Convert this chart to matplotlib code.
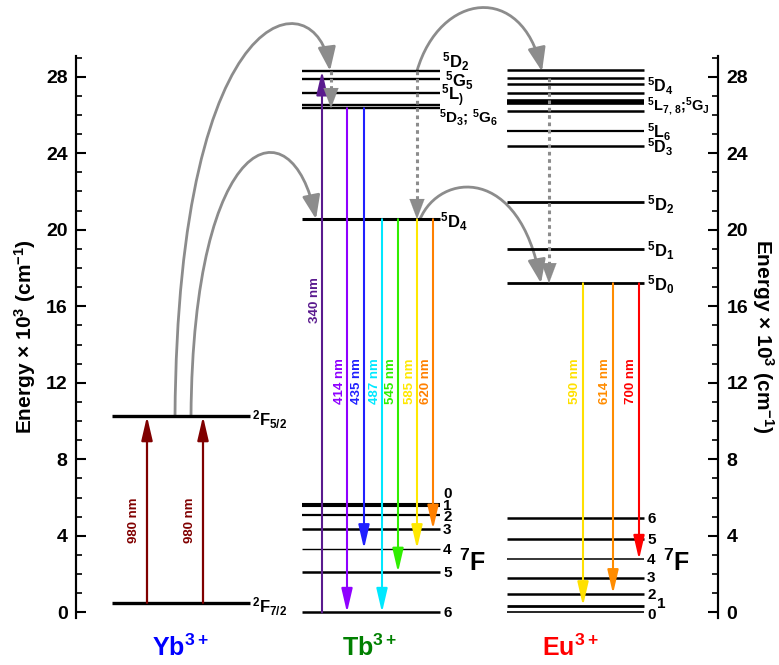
import matplotlib
matplotlib.use('Agg')
import matplotlib.pyplot as plt
from matplotlib.patches import FancyArrowPatch
from matplotlib.path import Path
from matplotlib.ticker import MultipleLocator

plt.rcParams['font.family'] = ['Liberation Sans', 'DejaVu Sans']
plt.rcParams['font.weight'] = 'bold'
plt.rcParams['axes.labelweight'] = 'bold'
plt.rcParams['mathtext.fontset'] = 'custom'
plt.rcParams['mathtext.rm'] = 'Liberation Sans:bold'
plt.rcParams['mathtext.it'] = 'Liberation Sans:bold'
plt.rcParams['mathtext.bf'] = 'Liberation Sans:bold'
plt.rcParams['mathtext.default'] = 'rm'

# energy levels (x 10^3 cm-1)
yb_levels = [0.5, 10.25]
yb_names = ['$^2$F$_{7/2}$', '$^2$F$_{5/2}$']

tb_upper = [28.3, 27.9, 27.15, 26.5, 26.35]
tb_5d4 = 20.55
tb_7f = [5.68, 5.54, 5.07, 4.35, 3.33, 2.1, 0.0]     # 7F0 .. 7F6

eu_upper = [28.37, 27.92, 27.64, 27.15, 26.72, 26.6, 26.23, 25.15, 24.35]
eu_5d = [21.47, 18.98, 17.2]                          # 5D2, 5D1, 5D0
eu_7f = [0.0, 0.35, 0.98, 1.81, 2.77, 3.85, 4.93]     # 7F0 .. 7F6

# transitions
yb_wl = ['980 nm', '980 nm']
tb_wl = ['340 nm', '414 nm', '435 nm', '487 nm', '545 nm', '585 nm', '620 nm']
tb_start = [0.0, 26.35, 26.35, 20.55, 20.55, 20.55, 20.55]
tb_end = [28.3, 0.0, 3.33, 0.0, 2.1, 3.33, 4.35]
eu_wl = ['590 nm', '614 nm', '700 nm']
eu_start = [17.2, 17.2, 17.2]
eu_end = [0.35, 0.98, 2.77]

# layout helpers (x in picture pixels, y in energy)
PX, Y0 = 19.14, 612.5
def e(ypx):
    return (Y0 - ypx) / PX

fig = plt.figure(figsize=(7.79, 6.65), dpi=100)
ax = fig.add_axes([76 / 779, 0.0704, 642 / 779, 0.846])
ax.set_xlim(76, 718)
ax.set_ylim(-0.3, 29.1)

# ---- levels
ax.hlines(yb_levels, 112, 250, color='black', lw=2.4)
ax.hlines(tb_upper, 302, 440, color='black', lw=1.7)
ax.hlines([tb_5d4], 302, 440, color='black', lw=2.2)
tb_lw = [1.5, 1.5, 1.6, 1.8, 1.0, 1.8, 1.8]
for lvl, w in zip(tb_7f, tb_lw):
    ax.hlines(lvl, 302, 440, color='black', lw=w)
eu_lw = [1.8, 1.8, 1.8, 1.8, 2.6, 2.6, 1.8, 1.6, 1.8]
for lvl, w in zip(eu_upper, eu_lw):
    ax.hlines(lvl, 507, 644, color='black', lw=w)
ax.hlines(eu_5d, 507, 644, color='black', lw=2.0)
eu7_lw = [1.2, 2.0, 1.8, 1.8, 1.1, 1.8, 1.8]
for lvl, w in zip(eu_7f, eu7_lw):
    ax.hlines(lvl, 507, 644, color='black', lw=w)


def arrow(x, y0, y1, color, lw=1.5):
    ax.annotate('', xy=(x, y1), xytext=(x, y0),
                arrowprops=dict(arrowstyle='-|>,head_length=1.2,head_width=0.28',
                                color=color, lw=lw, shrinkA=0, shrinkB=0,
                                mutation_scale=12))

# ---- Yb excitation
for x, lx, wl in zip([147, 203], [134, 190], yb_wl):
    arrow(x, yb_levels[0], yb_levels[1], '#800000', lw=1.6)
    ax.text(lx, 4.8, wl, rotation=90, color='#800000', fontsize=9.5,
            ha='center', va='center')

# ---- Tb transitions
tb_x = [322, 347, 364, 382, 398, 417, 433]
tb_col = ['#5a1a8e', '#8f00ff', '#2020ff', '#00e8ff', '#30ee00', '#ffe800', '#ff8000']
tb_lab_y = [16.3, 12.1, 12.1, 12.1, 12.1, 12.1, 12.1]
for x, s, t, c, wl, ly in zip(tb_x, tb_start, tb_end, tb_col, tb_wl, tb_lab_y):
    arrow(x, s, t, c)
    ax.text(x - 7, ly, wl, rotation=90, color=c, fontsize=9.5,
            ha='center', va='center')

# ---- Eu transitions
eu_x = [583, 613, 639]
eu_col = ['#ffe000', '#ff8c00', '#ff0000']
for x, s, t, c, wl in zip(eu_x, eu_start, eu_end, eu_col, eu_wl):
    arrow(x, s, t, c)
    ax.text(x - 8, 12.1, wl, rotation=90, color=c, fontsize=9.5,
            ha='center', va='center')

# ---- energy transfer (gray)
gray = '#8c8c8c'
curves = [
    [(175, yb_levels[1]), (178, e(-10)), (318, e(-20)), (330, tb_upper[0])],
    [(191, yb_levels[1]), (193, e(130)), (292, e(100)), (316, tb_5d4)],
    [(417, tb_upper[0]), (440, e(-8)), (522, e(-18)), (542, eu_upper[0] - 0.1)],
    [(420, tb_5d4), (440, e(172)), (520, e(165)), (541, eu_5d[2])],
]
for verts in curves:
    p = Path(verts, [Path.MOVETO, Path.CURVE4, Path.CURVE4, Path.CURVE4])
    ax.add_patch(FancyArrowPatch(path=p, color=gray, lw=2.0, clip_on=False,
                                 arrowstyle='-|>,head_length=1.2,head_width=0.45',
                                 mutation_scale=12))

dotted = [(331, tb_upper[0], tb_upper[4]), (417, tb_upper[0], tb_5d4),
          (549, eu_upper[1], eu_5d[2])]
for x, y0, y1 in dotted:
    ax.plot([x, x], [y0, y1 + 0.6], color=gray, lw=2.2, ls=(0, (1.2, 1.2)))
    ax.annotate('', xy=(x, y1), xytext=(x, y1 + 0.7),
                arrowprops=dict(arrowstyle='-|>,head_length=1.2,head_width=0.45',
                                color=gray, lw=0.1, shrinkA=0, shrinkB=0,
                                mutation_scale=12))

# ---- level labels
fs = 12
for name, y in zip(yb_names, [0.3, 10.05]):
    ax.text(252, y, name, fontsize=fs, ha='left', va='center')

tb_names = ['$^5$D$_2$', '$^5$G$_5$', '$^5$L$_)$', '$^5$D$_3$; $^5$G$_6$', '$^5$D$_4$']
tb_name_pos = [(442, e(62)), (445, e(81)), (441, e(96)), (439, e(118)), (440, e(222))]
tb_fs = [12, 12, 12, 11, 12]
for name, (x, y), f in zip(tb_names, tb_name_pos, tb_fs):
    ax.text(x, y, name, fontsize=f, ha='left', va='center')

tb_j_y = [6.2, 5.58, 5.0, 4.3, 3.28, 2.06, -0.05]
for j, y in enumerate(tb_j_y):
    ax.text(443, y, str(j), fontsize=11, ha='left', va='center')
ax.text(459, 2.6, '$^7$F', fontsize=18, ha='left', va='center')

eu_names = ['$^5$D$_4$', '$^5$L$_{7,\\,8}$;$^5$G$_J$', '$^5$L$_6$', '$^5$D$_3$',
            '$^5$D$_2$', '$^5$D$_1$', '$^5$D$_0$']
eu_name_y = [27.5, 26.45, 25.1, 24.3, 21.3, 18.9, 17.15]
eu_fs = [11.5, 10.5, 11.5, 11.5, 12, 12, 12]
for name, y, f in zip(eu_names, eu_name_y, eu_fs):
    ax.text(647, y, name, fontsize=f, ha='left', va='center')

eu_j_pos = [(647, -0.13), (657, 0.45), (647, 0.91), (647, 1.8), (647, 2.74),
            (647, 3.79), (647, 4.88)]
for j, (x, y) in enumerate(eu_j_pos):
    ax.text(x, y, str(j), fontsize=11, ha='left', va='center')
ax.text(663, 2.6, '$^7$F', fontsize=18, ha='left', va='center')

# ---- ion labels
ions = ['Yb$^{3+}$', 'Tb$^{3+}$', 'Eu$^{3+}$']
ion_x = [180, 370, 570]
ion_col = ['#0000ff', '#008000', '#ff0000']
for name, x, c in zip(ions, ion_x, ion_col):
    ax.text(x, e(648), name, fontsize=18, color=c, ha='center', va='center',
            clip_on=False)

# ---- axes
ax2 = ax.twinx()
ax2.set_ylim(ax.get_ylim())
for a in (ax, ax2):
    a.set_xticks([])
    a.spines['top'].set_visible(False)
    a.spines['bottom'].set_visible(False)
    for s in ('left', 'right'):
        a.spines[s].set_linewidth(1.5)
    a.yaxis.set_major_locator(MultipleLocator(4))
    a.yaxis.set_minor_locator(MultipleLocator(1))
    a.tick_params(axis='y', which='major', direction='in', length=7, width=1.5,
                  labelsize=14, pad=6)
    a.tick_params(axis='y', which='minor', direction='in', length=4, width=1.2)

ax.set_ylabel('Energy $\\times$ 10$^3$ (cm$^{-1}$)', fontsize=15, labelpad=6)
ax2.set_ylabel('Energy $\\times$ 10$^3$ (cm$^{-1}$)', fontsize=15, rotation=270,
               labelpad=20)

fig.savefig('out.png', dpi=100)
